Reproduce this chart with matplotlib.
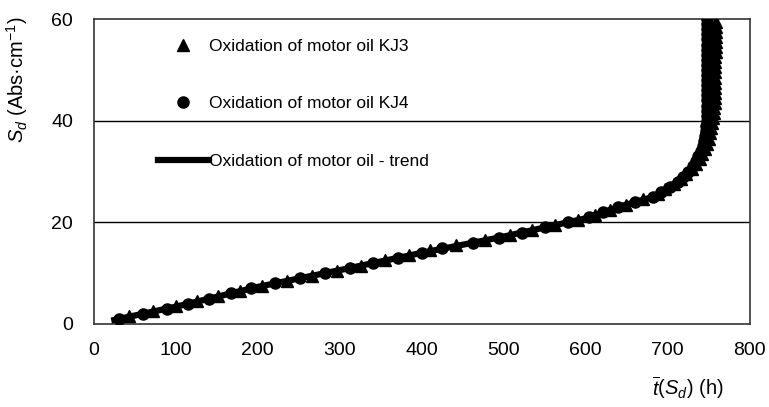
import matplotlib
matplotlib.use("Agg")
import matplotlib.pyplot as plt

plt.rcParams['font.family'] = ['Liberation Sans', 'DejaVu Sans']
plt.rcParams['mathtext.fontset'] = 'custom'
plt.rcParams['mathtext.rm'] = 'Liberation Sans'
plt.rcParams['mathtext.it'] = 'Liberation Sans:italic'

# S_d values (Abs/cm) and read-off times (h)
s_kj4 = [1, 2, 3, 4, 5, 6, 7, 8, 9, 10, 11, 12, 13, 14, 15, 16, 17, 18, 19, 20,
         21, 22, 23, 24, 25, 26, 27, 28, 29, 30, 31, 32, 33, 34, 35, 36, 37, 38, 39, 40,
         41, 42, 43, 44, 45, 46, 47, 48, 49, 50, 51, 52, 53, 54, 55, 56, 57, 58, 59, 60]
t_kj4 = [31, 60, 89, 115, 141, 167, 192, 221, 252, 282, 312, 341, 371, 400, 425, 462, 494, 522, 550, 578,
         604, 621, 639, 660, 682, 692, 703, 712, 718, 725, 731, 734, 737, 740, 743, 744, 746, 747, 747, 748,
         748, 748, 748, 748, 748, 748, 748, 748, 748, 748, 748, 748, 748, 748, 748, 748, 748, 748, 748, 748]

s_kj3 = [1.5, 2.5, 3.5, 4.5, 5.5, 6.5, 7.5, 8.5, 9.5, 10.5, 11.5, 12.5, 13.5, 14.5, 15.5, 16.5, 17.5, 18.5, 19.5, 20.5,
         21.5, 22.5, 23.5, 24.5, 25.5, 26.5, 27.5, 28.5, 29.5, 30.5, 31.5, 32.5, 33.5, 34.5, 35.5, 36.5, 37.5, 38.5, 39.5, 40.5,
         41.5, 42.5, 43.5, 44.5, 45.5, 46.5, 47.5, 48.5, 49.5, 50.5, 51.5, 52.5, 53.5, 54.5, 55.5, 56.5, 57.5, 58.5, 59.5]
t_kj3 = [43, 72, 100, 126, 152, 178, 205, 235, 266, 296, 326, 355, 385, 410, 442, 477, 507, 535, 563, 590,
         611, 629, 649, 670, 688, 697, 708, 716, 722, 729, 735, 739, 742, 745, 748, 750, 752, 753, 754, 755,
         756, 756, 757, 757, 757, 757, 758, 758, 758, 758, 758, 758, 759, 759, 759, 759, 759, 759, 759]

s_trend = [0.8, 3.4, 7.3, 10.6, 14, 17.2, 20.8, 23.1, 25, 27.7, 30.9, 34.8, 38, 40, 50, 60]
t_trend = [25, 100, 200, 300, 400, 500, 600, 641, 682, 710, 731, 743, 747, 748, 749, 750]

fig = plt.figure(figsize=(7.69, 4.07), dpi=100)
ax = fig.add_axes([0.122, 0.204, 0.853, 0.749])

ax.plot(t_trend, s_trend, color='black', lw=4.5, zorder=3, label='Oxidation of motor oil - trend')
ax.plot(t_kj3, s_kj3, ls='none', marker='^', ms=9, color='black', zorder=4, label='Oxidation of motor oil KJ3')
ax.plot(t_kj4, s_kj4, ls='none', marker='o', ms=8, color='black', zorder=4, label='Oxidation of motor oil KJ4')

ax.set_xlim(0, 800)
ax.set_ylim(0, 60)
ax.set_xticks(range(0, 801, 100))
ax.set_yticks([0, 20, 40, 60])
ax.axhline(20, color='black', lw=1, zorder=1)
ax.axhline(40, color='black', lw=1, zorder=1)
for sp in ax.spines.values():
    sp.set_color('#333333')
    sp.set_linewidth(1.2)
ax.tick_params(length=0, labelsize=14)
ax.tick_params(axis='x', pad=13)
ax.tick_params(axis='y', pad=15)

ax.set_ylabel(r'$S_d$ (Abs·cm$^{-1}$)', fontsize=14.5)
ax.yaxis.set_label_coords(-0.098, 0.8)
ax.set_xlabel(r'$\overline{t}(S_d)$ (h)', fontsize=14.5)
ax.xaxis.set_label_coords(0.905, -0.165)

h, l = ax.get_legend_handles_labels()
order = [1, 2, 0]
ax.legend([h[i] for i in order], [l[i] for i in order], loc='upper left',
          bbox_to_anchor=(0.085, 0.965), frameon=False, fontsize=12.5,
          labelspacing=2.45, handlelength=2.9, handletextpad=0.05, borderpad=0)

fig.savefig('out.png', dpi=100)
